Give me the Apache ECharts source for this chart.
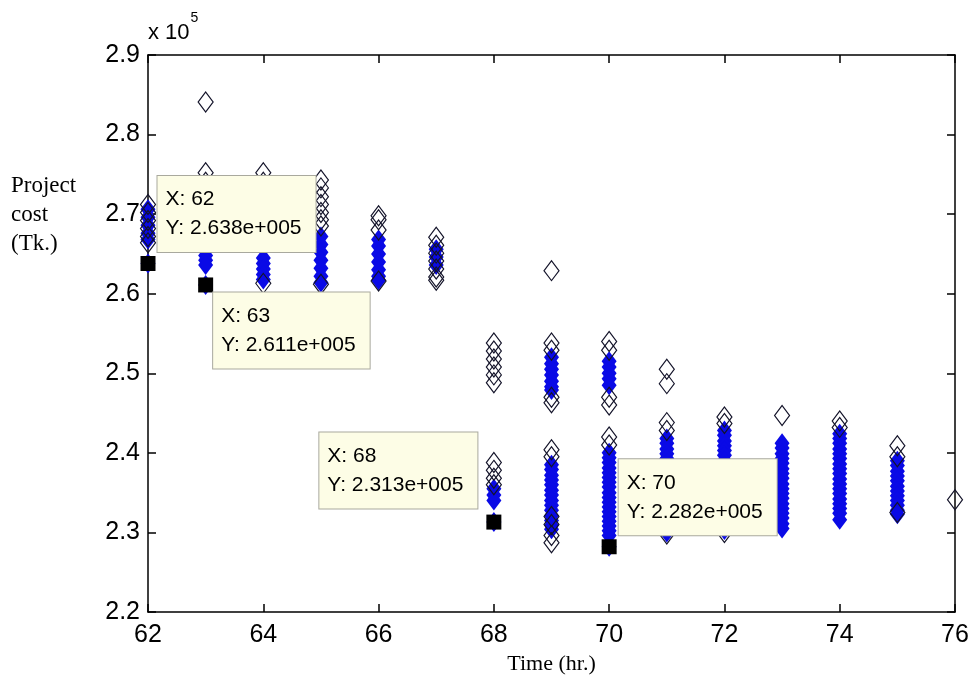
<!DOCTYPE html>
<html><head><meta charset="utf-8">
<script src="https://cdn.jsdelivr.net/npm/echarts@6/dist/echarts.min.js"></script>
<style>html,body{margin:0;padding:0;background:#fff}#c{width:973px;height:685px}</style>
</head><body><div id="c"></div>
<script>
// Time (hr.) of each column of solutions
const times = [62, 63, 64, 65, 66, 67, 68, 69, 70, 71, 72, 73, 74, 75, 76];

// Project cost (Tk.) of the densely packed (blue) solutions, one list per time
const filledCost = [
  [270600, 269600, 268600, 267600, 266800, 263800],
  [272000, 270000, 268000, 266000, 264800, 264200, 263600, 261100],
  [272000, 270000, 268000, 266000, 264500, 263800, 263100, 262400, 261800],
  [267200, 266200, 265200, 264200, 263200, 262200, 261400],
  [266800, 266000, 265000, 264000, 263000, 262200, 261700],
  [265600, 264600, 263600],
  [235500, 234700, 234000, 231300],
  [252000, 251200, 250500, 249800, 249000, 248300, 247900,
   238500, 237900, 237200, 236600, 236000, 235300, 234700, 234000, 233400, 232800, 232100, 231500, 230900, 230400],
  [251500, 250800, 250000, 249300, 248500,
   240000, 239400, 238800, 238100, 237500, 236900, 236300, 235700, 235000, 234400, 233800, 233200, 232600, 232000, 231400, 230800, 230200, 229600, 228200],
  [241800, 241200, 240500, 239900, 239300, 238700, 238000, 237400, 236800, 236200, 235500, 234900, 234300, 233700, 233000, 232400, 231800, 231200, 230600, 230000],
  [242800, 242200, 241500, 240900, 240300, 239700, 239000, 238400, 237800, 237100, 236500, 235900, 235300, 234600, 234000, 233400, 232800, 232100, 231500, 230900, 230300],
  [241200, 240600, 239900, 239300, 238700, 238000, 237400, 236800, 236100, 235500, 234900, 234300, 233600, 233000, 232400, 231800, 231100, 230500],
  [242400, 241800, 241200, 240500, 239900, 239300, 238600, 238000, 237400, 236700, 236100, 235500, 234900, 234200, 233600, 233000, 232400, 231600],
  [239000, 238400, 237700, 237100, 236500, 235800, 235200, 234600, 234000, 233400, 232800, 232300],
  []
];

// Project cost (Tk.) of the isolated / edge solutions (outlined diamonds)
const outlineCost = [
  [271200, 270200, 269200, 268200, 267200, 266400],
  [284100, 275200, 274000],
  [275200, 274000, 261300],
  [274300, 273300, 272200, 271200, 270200, 269300, 268500, 261200],
  [269800, 269300, 268000, 261600],
  [267100, 266100, 265100, 264100, 263100, 262100, 261700],
  [253800, 252800, 251800, 250800, 249800, 248800, 238800, 237800, 236800, 236000],
  [262900, 253800, 252900, 247000, 246300, 240400, 239500, 232000, 231000, 229600, 228700],
  [254000, 252900, 247000, 246000, 242000, 241000],
  [250500, 248700, 243800, 242800, 229800],
  [244500, 243700, 230000],
  [244700],
  [244000, 243200],
  [240900, 239500, 232500],
  [234100]
];

// Data tips (minimum cost at selected times)
const tipTimes = [62, 63, 68, 70];
const tipCosts = [263800, 261100, 231300, 228200];

const xMin = 62, xMax = 76, xStep = 2;
const yMin = 220000, yMax = 290000, yStep = 10000;

// ---- layout / style (not data) ----
const tipLabelPos = [[17, -80], [15, 15], [-167, -82], [17, -80]];
const SANS = '"Liberation Sans", Arial, Helvetica, sans-serif';
const SERIF = '"Liberation Serif", "Times New Roman", serif';

function toPairs(cols) {
  const out = [];
  cols.forEach((arr, i) => arr.forEach(v => out.push([times[i], v])));
  return out;
}

const axisLine = { show: true, onZero: false, lineStyle: { color: '#000', width: 1.5 } };
const axisTick = { show: true, inside: true, length: 8, lineStyle: { color: '#000', width: 1.5 } };

const chart = echarts.init(document.getElementById('c'), null, { renderer: 'canvas' });
chart.setOption({
  animation: false,
  backgroundColor: '#fff',
  title: {
    text: 'Project\ncost\n(Tk.)',
    left: 11, top: 171, padding: 0,
    textStyle: { fontFamily: SERIF, fontSize: 23, lineHeight: 29, fontWeight: 'normal', color: '#000' }
  },
  grid: { left: 148, right: 18, top: 55, bottom: 73, containLabel: false },
  xAxis: [
    {
      type: 'value', min: xMin, max: xMax, interval: xStep, position: 'bottom',
      axisLine, axisTick,
      axisLabel: { color: '#000', fontSize: 25, fontFamily: SANS, margin: 11 },
      splitLine: { show: false },
      name: 'Time (hr.)', nameLocation: 'middle', nameGap: 39,
      nameTextStyle: { fontFamily: SERIF, fontSize: 22, color: '#000' }
    },
    {
      type: 'value', min: xMin, max: xMax, interval: xStep, position: 'top',
      axisLine, axisTick, axisLabel: { show: false }, splitLine: { show: false }
    }
  ],
  yAxis: [
    {
      type: 'value', min: yMin, max: yMax, interval: yStep, position: 'left',
      axisLine, axisTick,
      axisLabel: { color: '#000', fontSize: 25, fontFamily: SANS, margin: 8,
        formatter: v => (v / 1e5).toFixed(1) },
      splitLine: { show: false },
      name: '{b|x 10}{s|5}', nameLocation: 'end', nameGap: 22,
      nameTextStyle: {
        align: 'left', verticalAlign: 'middle', color: '#000', fontFamily: SANS, fontSize: 22,
        rich: {
          b: { fontSize: 22, fontFamily: SANS, color: '#000', verticalAlign: 'middle' },
          s: { fontSize: 14, fontFamily: SANS, color: '#000', verticalAlign: 'bottom', padding: [0, 0, 30, 1] }
        }
      }
    },
    {
      type: 'value', min: yMin, max: yMax, interval: yStep, position: 'right',
      axisLine, axisTick, axisLabel: { show: false }, splitLine: { show: false }
    }
  ],
  series: [
    {
      name: 'dense', type: 'scatter', xAxisIndex: 0, yAxisIndex: 0, z: 2,
      symbol: 'diamond', symbolSize: [15, 20],
      itemStyle: { color: '#0a0ae6', borderWidth: 0, opacity: 1 },
      emphasis: { disabled: true },
      data: toPairs(filledCost)
    },
    {
      name: 'edge', type: 'scatter', xAxisIndex: 0, yAxisIndex: 0, z: 3,
      symbol: 'diamond', symbolSize: [15, 20],
      itemStyle: { color: 'rgba(255,255,255,0)', borderColor: '#14142a', borderWidth: 1.2, opacity: 1 },
      emphasis: { disabled: true },
      data: toPairs(outlineCost)
    },
    {
      name: 'tips', type: 'scatter', xAxisIndex: 0, yAxisIndex: 0, z: 10,
      symbol: 'rect', symbolSize: 15,
      itemStyle: { color: '#000', opacity: 1 },
      emphasis: { disabled: true },
      label: {
        show: true, opacity: 1,
        formatter: p => 'X: ' + p.value[0] + '\nY: ' + (p.value[1] / 1e5).toFixed(3) + 'e+005',
        backgroundColor: '#fdfde6', borderColor: '#a9a99e', borderWidth: 1,
        padding: [9, 14, 9, 8], fontSize: 21, lineHeight: 29, color: '#000', fontFamily: SANS,
        align: 'left', verticalAlign: 'top'
      },
      data: tipTimes.map((t, i) => ({ value: [t, tipCosts[i]], label: { position: tipLabelPos[i] } }))
    }
  ]
});
</script></body></html>
